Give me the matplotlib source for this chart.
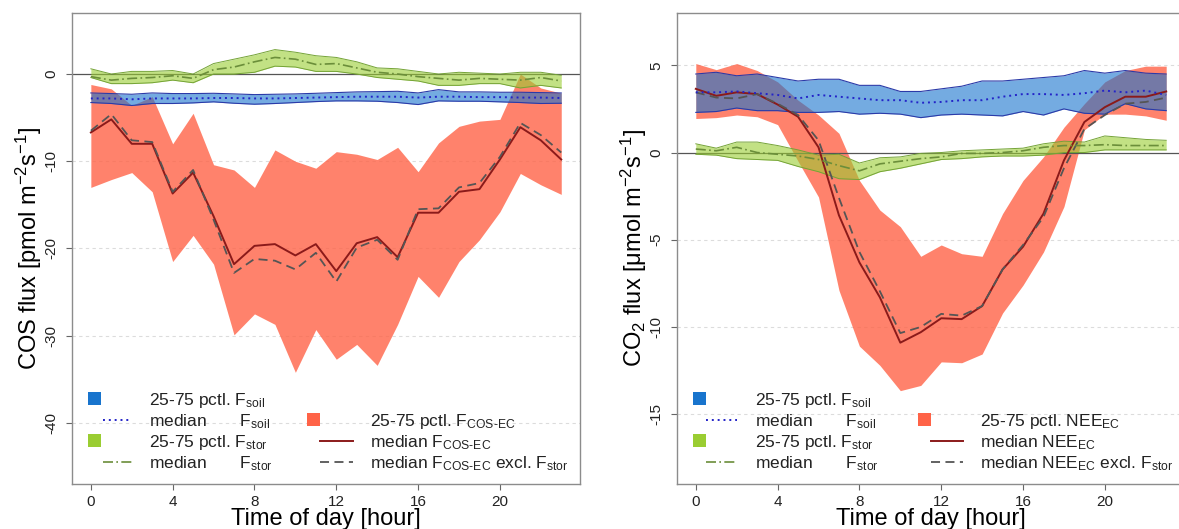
import matplotlib
matplotlib.use("Agg")
import matplotlib.pyplot as plt
from matplotlib.patches import Rectangle
from matplotlib.lines import Line2D

plt.rcParams["font.family"] = ["Liberation Sans", "DejaVu Sans"]
plt.rcParams["mathtext.fontset"] = "custom"
plt.rcParams["mathtext.rm"] = "Liberation Sans"
plt.rcParams["mathtext.it"] = "Liberation Sans:italic"
plt.rcParams["mathtext.bf"] = "Liberation Sans:bold"
plt.rcParams["mathtext.default"] = "regular"
plt.rcParams["axes.unicode_minus"] = False

hours = list(range(24))

# ---- COS panel ----
cos_ec_q25 = [-13.0, -12.1, -11.3, -13.5, -21.5, -18.5, -21.8, -29.9, -27.5, -28.7, -34.2, -29.3,
              -32.7, -31.0, -33.4, -28.7, -23.2, -25.6, -21.5, -19.0, -15.8, -11.4, -12.7, -13.8]
cos_ec_q75 = [-1.2, -1.7, -3.6, -2.6, -8.0, -4.5, -10.4, -11.0, -13.0, -8.7, -10.0, -10.8,
              -8.9, -9.2, -9.8, -8.4, -11.2, -7.9, -6.0, -5.4, -5.2, 0.0, -1.6, -2.2]
cos_ec_med = [-6.7, -5.2, -8.0, -8.0, -13.7, -11.3, -16.3, -21.8, -19.7, -19.5, -20.8, -19.5,
              -22.6, -19.4, -18.7, -21.0, -15.9, -15.9, -13.5, -13.2, -9.8, -6.1, -7.6, -9.8]
cos_ec_excl = [-6.5, -4.6, -7.6, -7.8, -13.5, -11.0, -16.7, -22.8, -21.2, -21.4, -22.4, -20.5,
               -23.8, -19.9, -19.0, -21.3, -15.5, -15.4, -13.0, -12.5, -9.5, -5.6, -7.0, -9.0]
cos_soil_q25 = [-3.27, -3.38, -3.61, -3.38, -3.38, -3.31, -3.19, -3.35, -3.46, -3.38, -3.27, -3.16,
                -3.08, -3.08, -3.12, -3.27, -3.50, -3.08, -3.12, -3.12, -3.19, -3.27, -3.38, -3.35]
cos_soil_q75 = [-2.17, -2.24, -2.32, -2.17, -2.24, -2.24, -2.21, -2.28, -2.36, -2.32, -2.28, -2.21,
                -2.13, -2.05, -2.02, -1.98, -2.17, -1.79, -2.05, -2.05, -2.09, -2.09, -2.13, -2.17]
cos_soil_med = [-2.8, -2.8, -2.9, -2.8, -2.8, -2.8, -2.75, -2.75, -2.8, -2.8, -2.75, -2.7,
                -2.65, -2.6, -2.6, -2.6, -2.7, -2.6, -2.6, -2.65, -2.65, -2.7, -2.7, -2.75]
cos_stor_q25 = [-0.4, -1.1, -1.1, -1.0, -0.7, -1.0, 0.0, 0.0, 0.2, 0.9, 0.8, 0.3,
                0.3, 0.0, -0.4, -0.6, -0.8, -1.3, -1.3, -1.1, -1.1, -1.6, -1.3, -1.6]
cos_stor_q75 = [0.6, 0.0, 0.3, 0.3, 0.4, 0.0, 1.2, 1.7, 2.2, 2.8, 2.5, 2.1,
                1.9, 1.4, 0.7, 0.6, 0.3, 0.0, 0.2, 0.1, 0.0, 0.2, 0.2, -0.15]
cos_stor_med = [-0.3, -0.7, -0.5, -0.4, -0.2, -0.5, 0.5, 0.8, 1.4, 1.9, 1.7, 1.1,
                1.2, 0.7, 0.2, 0.0, -0.3, -0.5, -0.7, -0.5, -0.6, -0.7, -0.4, -0.8]

# ---- CO2 panel ----
nee_q25 = [1.95, 2.0, 2.15, 2.05, 1.6, -0.5, -2.55, -7.9, -11.1, -12.2, -13.65, -13.35,
           -12.0, -12.05, -11.55, -9.2, -7.6, -5.7, -3.1, 1.3, 2.2, 2.2, 2.1, 1.85]
nee_q75 = [5.1, 4.75, 5.1, 4.7, 4.05, 3.0, 2.15, 1.1, -1.6, -3.3, -4.25, -5.95,
           -5.3, -5.8, -5.95, -3.5, -1.6, -0.25, 1.45, 2.8, 4.05, 4.7, 4.95, 4.95]
nee_med = [3.65, 3.25, 3.45, 3.35, 2.75, 2.05, 0.3, -3.6, -6.3, -8.3, -10.9, -10.3,
           -9.5, -9.55, -8.8, -6.7, -5.4, -3.5, -0.45, 1.75, 2.6, 3.2, 3.2, 3.5]
nee_excl = [3.45, 3.15, 3.1, 3.35, 2.8, 2.15, 0.7, -2.6, -5.7, -7.95, -10.35, -10.0,
            -9.25, -9.35, -8.8, -6.7, -5.3, -3.7, -0.9, 1.35, 2.15, 2.8, 2.9, 3.15]
co2_soil_q25 = [2.3, 2.35, 2.55, 2.4, 2.4, 2.3, 2.3, 2.35, 2.2, 2.25, 2.2, 2.0,
                2.15, 2.2, 2.15, 2.1, 2.35, 2.15, 2.5, 2.25, 2.2, 2.8, 2.5, 2.4]
co2_soil_q75 = [4.5, 4.6, 4.4, 4.5, 4.3, 4.1, 4.2, 4.2, 3.85, 3.85, 3.5, 3.5,
                3.65, 3.8, 4.1, 4.1, 4.2, 4.3, 4.4, 4.7, 4.55, 4.7, 4.55, 4.5]
co2_soil_med = [3.45, 3.45, 3.5, 3.4, 3.3, 3.1, 3.3, 3.2, 3.1, 3.0, 3.0, 2.85,
                2.9, 3.0, 3.0, 3.2, 3.35, 3.35, 3.3, 3.4, 3.55, 3.45, 3.55, 3.3]
co2_stor_q25 = [-0.1, -0.15, -0.35, -0.4, -0.45, -0.8, -1.1, -1.5, -1.55, -1.1, -0.9, -0.65,
                -0.4, -0.35, -0.25, -0.2, -0.2, -0.15, 0.0, 0.0, 0.15, 0.15, 0.15, 0.15]
co2_stor_q75 = [0.5, 0.25, 0.6, 0.6, 0.4, 0.15, -0.15, -0.1, -0.6, -0.3, -0.25, -0.05,
                0.0, 0.1, 0.15, 0.2, 0.25, 0.5, 0.65, 0.6, 0.95, 0.85, 0.75, 0.7]
co2_stor_med = [0.2, 0.1, 0.3, 0.0, -0.1, -0.2, -0.4, -0.75, -1.05, -0.65, -0.5, -0.35,
                -0.25, -0.05, -0.05, 0.0, 0.1, 0.3, 0.4, 0.4, 0.45, 0.4, 0.4, 0.4]

xticks = [0, 4, 8, 12, 16, 20]
cos_yticks = [0, -10, -20, -30, -40]
co2_yticks = [5, 0, -5, -10, -15]

BLUE = "#1874cd"
GREEN = "#9acd32"
RED = "#ff6347"
BLUE_EDGE = "#2b3aa8"
GREEN_EDGE = "#74a336"
DARKRED = "#8b1a1a"
GREY = "#555555"
STOR_LINE = "#6b8e3a"

soil_line = dict(color="#2323c8", lw=1.4, linestyle=(0, (1, 2)))
stor_line = dict(color=STOR_LINE, lw=1.2, linestyle=(0, (6, 2, 1, 2)))
ec_line = dict(color=DARKRED, lw=1.4)
excl_line = dict(color=GREY, lw=1.3, linestyle=(0, (5, 3)))


def draw_panel(ax, ylim, yticks, soil, stor, ec, excl):
    ax.set_xlim(-0.92, 23.92)
    ax.set_ylim(*ylim)
    for t in yticks:
        if t != 0:
            ax.axhline(t, color="#dcdcdc", lw=0.8, linestyle=(0, (3, 3)), zorder=0.5)
    ax.axhline(0, color="#555555", lw=0.9, zorder=1.5)

    ax.fill_between(hours, ec[0], ec[1], color=RED, alpha=0.8, lw=0, zorder=1)
    ax.fill_between(hours, soil[0], soil[1], color=BLUE, alpha=0.6, lw=0, zorder=2)
    ax.plot(hours, soil[0], color=BLUE_EDGE, lw=0.8, zorder=2.1)
    ax.plot(hours, soil[1], color=BLUE_EDGE, lw=0.8, zorder=2.1)
    ax.fill_between(hours, stor[0], stor[1], color=GREEN, alpha=0.6, lw=0, zorder=3)
    ax.plot(hours, stor[0], color=GREEN_EDGE, lw=0.7, zorder=3.1)
    ax.plot(hours, stor[1], color=GREEN_EDGE, lw=0.7, zorder=3.1)

    ax.plot(hours, ec[2], zorder=4, **ec_line)
    ax.plot(hours, excl, zorder=4.1, **excl_line)
    ax.plot(hours, soil[2], zorder=4.2, **soil_line)
    ax.plot(hours, stor[2], zorder=4.3, **stor_line)

    ax.set_xticks(xticks)
    ax.set_yticks(yticks)
    ax.tick_params(axis="both", direction="out", length=4.3, width=0.8, color="#666666",
                   labelsize=11, labelcolor="#222222")
    ax.tick_params(axis="x", pad=3.5)
    ax.tick_params(axis="y", labelrotation=90, pad=5.5)
    for lbl in ax.get_yticklabels():
        lbl.set_va("center")
    for sp in ax.spines.values():
        sp.set_color("#8c8c8c")
        sp.set_linewidth(1.0)
    ax.set_xlabel("Time of day [hour]", fontsize=17, va="top")
    ax.xaxis.set_label_coords(0.5, -0.05)


def add_legend(ax, entries, cols):
    rows = [0.1805, 0.1359, 0.0913, 0.0467]
    for col, row, kind, style, label in entries:
        sq0, ln0, ln1, tx = cols[col]
        y = rows[row]
        if kind == "box":
            ax.add_patch(Rectangle((sq0, y - 0.0138), 0.0256, 0.0276, transform=ax.transAxes,
                                   facecolor=style, edgecolor="none", clip_on=False, zorder=6))
        else:
            ax.add_line(Line2D([ln0, ln1], [y, y], transform=ax.transAxes, zorder=6, **style))
        ax.text(tx, y - 0.0125, label, transform=ax.transAxes, fontsize=12.5,
                va="baseline", ha="left", color="#222222", zorder=6)


fig = plt.figure(figsize=(11.79, 5.29), dpi=100)
ax1 = fig.add_axes([0.0611, 0.0851, 0.4309, 0.8904])
ax2 = fig.add_axes([0.5742, 0.0851, 0.4309, 0.8904])

draw_panel(ax1, (-47, 7), cos_yticks,
           (cos_soil_q25, cos_soil_q75, cos_soil_med),
           (cos_stor_q25, cos_stor_q75, cos_stor_med),
           (cos_ec_q25, cos_ec_q75, cos_ec_med), cos_ec_excl)
draw_panel(ax2, (-19, 8), co2_yticks,
           (co2_soil_q25, co2_soil_q75, co2_soil_med),
           (co2_stor_q25, co2_stor_q75, co2_stor_med),
           (nee_q25, nee_q75, nee_med), nee_excl)

ax1.set_ylabel("COS flux [pmol m$^{-2}$s$^{-1}$]", fontsize=17)
ax1.yaxis.set_label_coords(-0.056, 0.5)
ax2.set_ylabel("CO$_2$ flux [\u03bcmol m$^{-2}$s$^{-1}$]", fontsize=17)
ax2.yaxis.set_label_coords(-0.056, 0.5)

common = [
    (0, 0, "box", BLUE, "25-75 pctl. F$_{soil}$"),
    (0, 1, "line", soil_line, "median       F$_{soil}$"),
    (0, 2, "box", GREEN, "25-75 pctl. F$_{stor}$"),
    (0, 3, "line", stor_line, "median       F$_{stor}$"),
]
add_legend(ax1, common + [
    (1, 1, "box", RED, "25-75 pctl. F$_{\\text{COS-EC}}$"),
    (1, 2, "line", ec_line, "median F$_{\\text{COS-EC}}$"),
    (1, 3, "line", excl_line, "median F$_{\\text{COS-EC}}$ excl. F$_{stor}$"),
], [(0.0315, 0.061, 0.118, 0.1516), (0.4626, 0.488, 0.553, 0.5866)])
add_legend(ax2, common + [
    (1, 1, "box", RED, "25-75 pctl. NEE$_{EC}$"),
    (1, 2, "line", ec_line, "median NEE$_{EC}$"),
    (1, 3, "line", excl_line, "median NEE$_{EC}$ excl. F$_{stor}$"),
], [(0.0315, 0.057, 0.118, 0.1535), (0.474, 0.5, 0.563, 0.596)])

fig.savefig("out.png", dpi=100)
